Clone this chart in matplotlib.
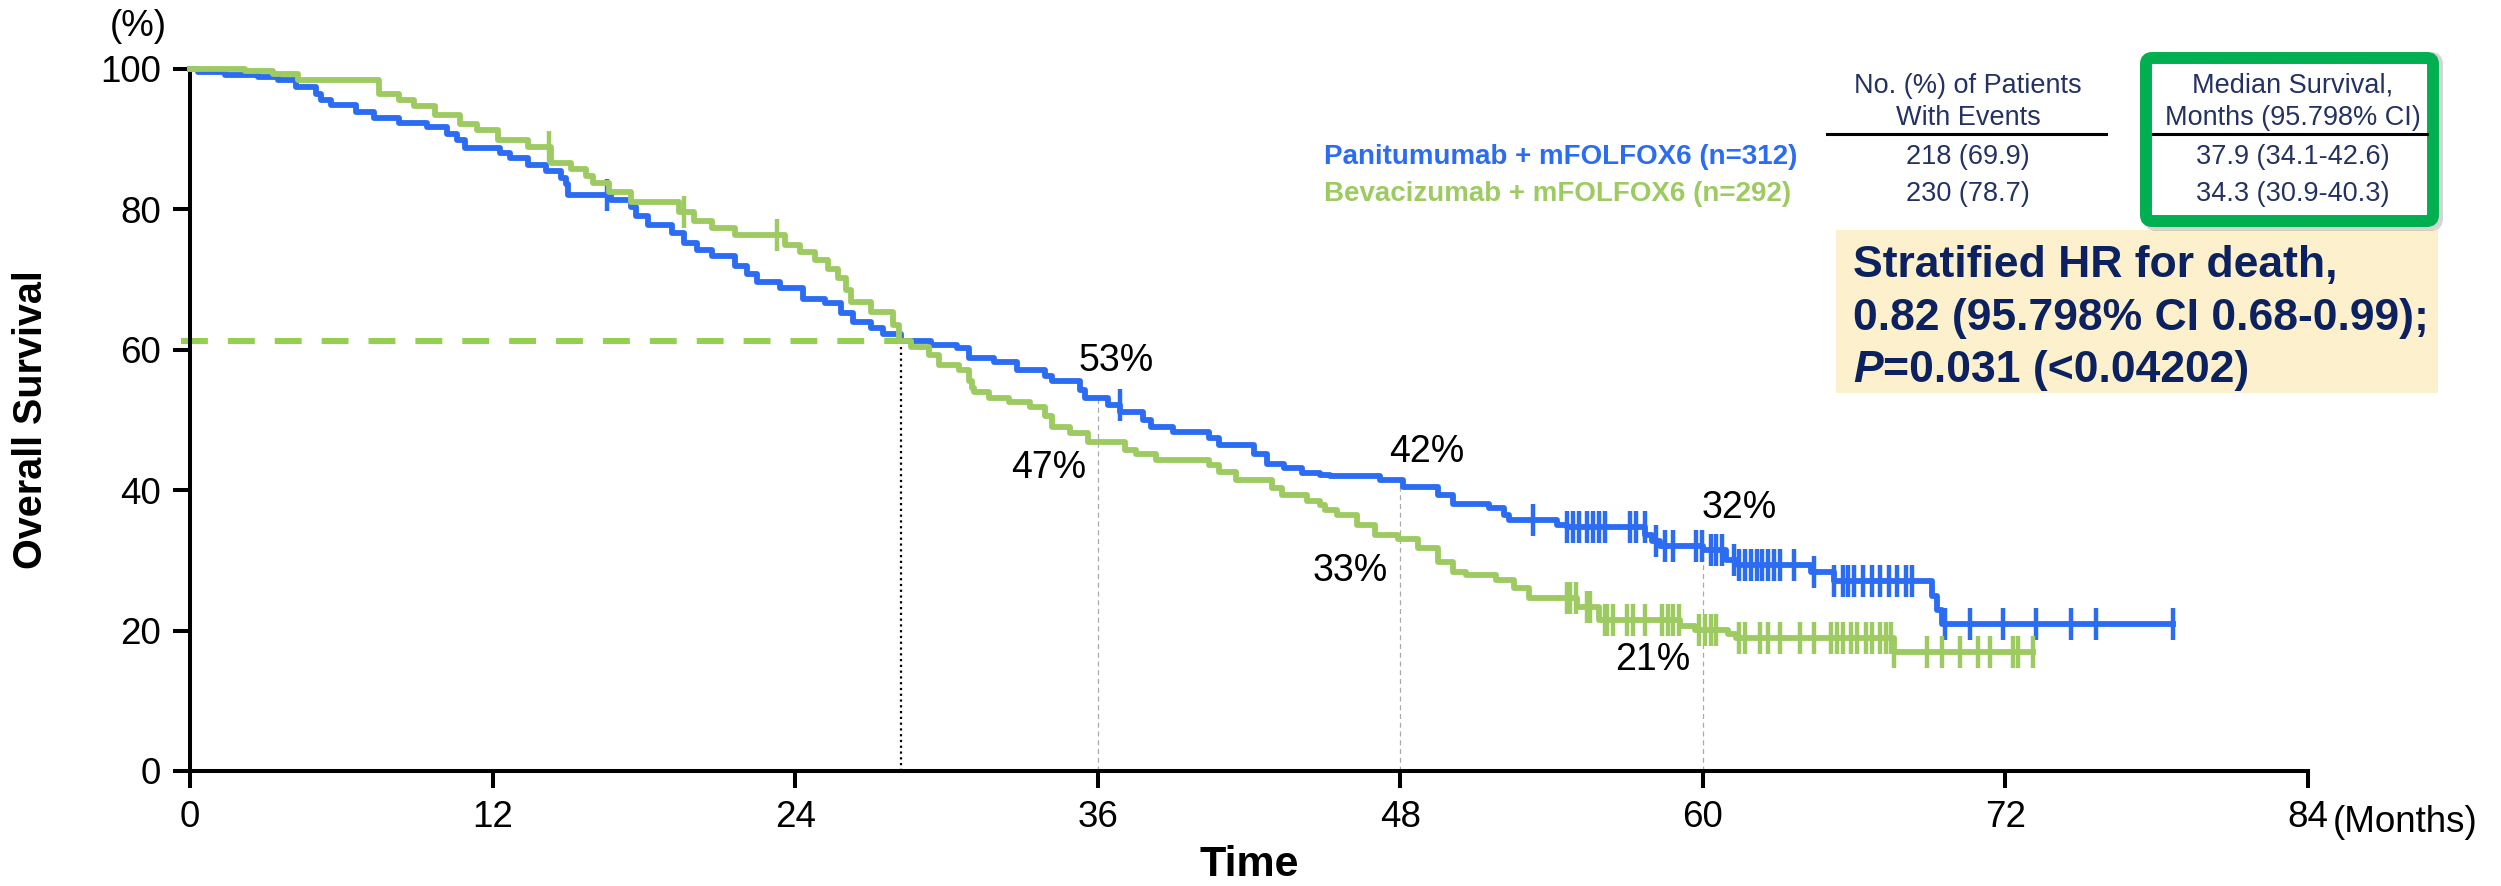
import numpy as np
import matplotlib
matplotlib.use("Agg")
import matplotlib.pyplot as plt
from matplotlib.patches import FancyBboxPatch, Rectangle
from matplotlib.transforms import IdentityTransform

plt.rcParams['font.family'] = ['Liberation Sans', 'DejaVu Sans']

# ========== data ==========
# Panitumumab + mFOLFOX6 : step times (months) and survival (%) after each step
pani_t = [0, 0.3, 1.4, 2.7, 3.5, 4.2, 5.0, 5.2, 5.6, 6.6, 7.3, 8.3, 9.4, 10.2, 10.6,
          10.9, 12.3, 12.7, 13.4, 14.1, 14.7, 14.9, 15.0, 16.7, 17.5, 17.7, 18.15,
          19.1, 19.6, 20.1, 20.7, 21.6, 22.1, 22.5, 23.4, 24.3, 25.2, 25.8, 26.3,
          27.0, 27.5, 28.2, 29.4, 30.4, 30.9, 31.9, 32.8, 33.9, 34.2, 35.3, 35.5,
          36.4, 36.9, 37.8, 38.1, 39.0, 40.4, 40.8, 42.2, 42.7, 43.4, 44.1, 44.8,
          45.2, 47.2, 48.1, 49.5, 50.1, 51.5, 52.1, 52.3, 54.2, 54.6, 57.7, 58.0,
          58.3, 60.0, 60.9, 61.4, 64.3, 65.2, 69.1, 69.3, 69.5, 78.65]
pani_s = [100, 99.6, 99.2, 98.9, 98.4, 97.5, 96.5, 95.6, 94.9, 93.9, 93.0, 92.3, 91.7,
          90.8, 89.9, 88.7, 88.0, 87.3, 86.3, 85.4, 84.5, 83.6, 82.0, 81.3, 80.4,
          79.0, 77.8, 76.6, 75.2, 74.2, 73.3, 72.0, 70.8, 69.7, 68.8, 67.3, 66.6,
          65.2, 64.0, 63.1, 62.3, 61.3, 60.7, 60.2, 58.8, 58.2, 57.1, 56.2, 55.5,
          54.3, 53.2, 52.1, 51.2, 50.0, 49.0, 48.3, 47.4, 46.4, 45.2, 43.8, 43.1,
          42.4, 42.2, 42.0, 41.5, 40.5, 39.3, 38.1, 37.5, 36.5, 35.8, 35.0, 34.8,
          33.6, 32.8, 32.0, 31.5, 30.1, 29.3, 28.4, 27.1, 25.0, 23.0, 21.0, 21.0]
pani_cens = [16.55, 36.87, 53.25, 54.62, 54.85, 55.07, 55.42, 55.64, 55.87, 56.1,
             57.12, 57.35, 57.69, 58.15, 58.49, 58.83, 59.74, 59.97, 60.31, 60.54,
             60.77, 61.22, 61.45, 61.68, 61.9, 62.13, 62.36, 62.59, 62.81, 63.04,
             63.61, 64.41, 65.21, 65.55, 65.77, 66.0, 66.34, 66.69, 67.03, 67.37,
             67.71, 68.05, 68.28, 69.6, 70.6, 71.9, 73.2, 74.6, 75.6, 78.65]

# Bevacizumab + mFOLFOX6
beva_t = [0, 2.2, 3.3, 4.3, 7.5, 8.3, 8.9, 9.7, 10.7, 11.4, 12.2, 13.4, 14.3, 15.1,
          15.7, 16.0, 16.6, 17.5, 19.4, 20.0, 20.7, 21.6, 23.6, 24.2, 24.8, 25.3,
          25.7, 26.0, 26.2, 27.0, 27.9, 28.1, 28.6, 29.3, 29.7, 30.5, 30.9, 31.0,
          31.1, 31.7, 32.5, 33.3, 33.9, 34.2, 34.9, 35.6, 37.1, 37.5, 38.3, 40.4,
          40.8, 41.5, 42.9, 43.3, 44.3, 44.8, 45.0, 45.5, 46.3, 47.0, 47.9, 48.7,
          49.5, 50.1, 50.6, 51.8, 52.5, 53.1, 55.0, 55.9, 59.1, 59.7, 61.0, 61.3,
          67.6, 73.1]
beva_s = [100, 99.7, 99.3, 98.4, 96.5, 95.6, 94.8, 93.4, 92.2, 91.3, 89.9, 88.9, 86.6,
          85.8, 84.7, 83.7, 82.5, 81.0, 79.7, 78.3, 77.3, 76.4, 75.0, 74.0, 72.8,
          71.5, 70.2, 68.5, 66.8, 65.4, 63.5, 61.3, 60.4, 59.3, 57.8, 57.1, 55.5,
          54.5, 54.0, 53.1, 52.5, 51.9, 50.5, 49.0, 48.1, 46.9, 45.7, 45.2, 44.3,
          43.6, 42.6, 41.5, 40.3, 39.3, 38.4, 37.9, 37.2, 36.5, 35.0, 33.6, 33.1,
          31.7, 29.8, 28.4, 27.9, 27.2, 26.0, 24.6, 23.4, 21.5, 20.6, 20.1, 19.5,
          18.9, 17.0, 17.0]
beva_cens = [14.25, 19.6, 23.3, 54.62, 54.73, 54.96, 55.42, 55.53, 56.1, 56.21, 56.44,
             57.0, 57.24, 57.69, 58.37, 58.6, 58.83, 59.06, 59.86, 60.08, 60.31,
             60.54, 61.45, 61.68, 62.25, 62.59, 63.04, 63.84, 64.41, 65.09, 65.32,
             65.55, 65.89, 66.12, 66.46, 66.69, 67.03, 67.26, 67.48, 67.6, 68.9,
             69.5, 70.2, 70.9, 71.4, 72.3, 72.5, 73.1]

# crossing point marked with the dashed / dotted guide
cross_time = 28.2
cross_surv = 61.2

landmark_months = [36, 48, 60]
pani_landmark = ['53%', '42%', '32%']
beva_landmark = ['47%', '33%', '21%']

arm_labels = ['Panitumumab + mFOLFOX6 (n=312)', 'Bevacizumab + mFOLFOX6 (n=292)']
events = ['218 (69.9)', '230 (78.7)']
medians = ['37.9 (34.1-42.6)', '34.3 (30.9-40.3)']

xticks = [0, 12, 24, 36, 48, 60, 72, 84]
yticks = [0, 20, 40, 60, 80, 100]

BLUE = '#2B6CF3'
GREEN = '#9DCB62'
NAVY = '#243262'
HR_NAVY = '#0C2260'

W, H = 2501, 886


def fx(px):
    return px / W


def fy(py):
    return 1 - py / H


def surv_at(t, s, m):
    i = np.searchsorted(t, m, side='right') - 1
    return np.asarray(s)[i]


# ========== plot ==========
fig = plt.figure(figsize=(W / 100, H / 100), dpi=100)
ax = fig.add_axes([fx(190), fy(771), 2118 / W, 702 / H])

ax.set_xlim(0, 84)
ax.set_ylim(0, 100)
ax.spines['top'].set_visible(False)
ax.spines['right'].set_visible(False)
for sp in ('left', 'bottom'):
    ax.spines[sp].set_linewidth(2.9)
ax.tick_params(direction='out', length=12, width=2.9, labelsize=26.5, pad=9)
ax.set_xticks(xticks)
ax.set_yticks(yticks)

# guides
ax.plot([-0.36, cross_time], [cross_surv, cross_surv], color='#92D050', lw=4.3,
        dashes=(4.5, 3.35), clip_on=False, zorder=2)
ax.vlines(cross_time, 0, cross_surv, colors='black', lw=1.6,
          linestyles=(0, (1, 1.6)), zorder=2)
top_vals = [max(surv_at(pani_t, pani_s, m), surv_at(beva_t, beva_s, m))
            for m in landmark_months]
ax.vlines(landmark_months, 0, top_vals, colors='#aaaaaa', lw=0.9,
          linestyles=(0, (4, 3)), zorder=1)

# curves
ax.step(pani_t, pani_s, where='post', color=BLUE, lw=4.2, clip_on=False, zorder=3)
ax.plot(pani_cens, surv_at(pani_t, pani_s, pani_cens), ls='none', marker='|',
        ms=23, mew=3.2, color=BLUE, clip_on=False, zorder=3)
ax.step(beva_t, beva_s, where='post', color=GREEN, lw=4.2, clip_on=False, zorder=4)
ax.plot(beva_cens, surv_at(beva_t, beva_s, beva_cens), ls='none', marker='|',
        ms=23, mew=3.2, color=GREEN, clip_on=False, zorder=4)

# landmark labels (offsets in points)
pani_off = [(13, 26), (19, 20), (26, 30)]
beva_off = [(-35, -19), (-36, -23), (-36, -22)]
for m, lab, off in zip(landmark_months, pani_landmark, pani_off):
    ax.annotate(lab, (m, surv_at(pani_t, pani_s, m)), xytext=off,
                textcoords='offset points', ha='center', va='center', fontsize=27)
for m, lab, off in zip(landmark_months, beva_landmark, beva_off):
    ax.annotate(lab, (m, surv_at(beva_t, beva_s, m)), xytext=off,
                textcoords='offset points', ha='center', va='center', fontsize=27)

# axis labels
ax.set_ylabel('Overall Survival', fontsize=28.5, fontweight='bold')
ax.yaxis.set_label_coords(-0.066, 0.5)
ax.set_xlabel('Time', fontsize=31, fontweight='bold')
ax.xaxis.set_label_coords(0.5, -0.105)
ax.annotate('(Months)', (84, 0), xycoords=('data', 'axes fraction'),
            xytext=(18, -43.9), textcoords='offset points', ha='left',
            va='baseline', fontsize=26.5, annotation_clip=False)
fig.text(fx(138), fy(27), '(%)', ha='center', va='center', fontsize=26.5)

# ========== table / legend ==========
pix = IdentityTransform()
fig.add_artist(Rectangle((1836, H - 393), 602, 163, transform=pix,
                         facecolor='#FDF0CC', edgecolor='none', zorder=1))
fig.add_artist(FancyBboxPatch((2150, H - 225), 287, 167, transform=pix,
                              boxstyle='round,pad=0,rounding_size=6',
                              facecolor='#888888', edgecolor='#888888', lw=8.6,
                              alpha=0.35, zorder=2))
fig.add_artist(FancyBboxPatch((2146, H - 221), 287, 163, transform=pix,
                              boxstyle='round,pad=0,rounding_size=6',
                              facecolor='white', edgecolor='#00B050', lw=8.6,
                              zorder=3))

fig.text(fx(1968), fy(93), 'No. (%) of Patients', ha='center', va='baseline',
         fontsize=19.5, color=NAVY, zorder=5)
fig.text(fx(1968), fy(125), 'With Events', ha='center', va='baseline',
         fontsize=19.5, color=NAVY, zorder=5)
fig.text(fx(2293), fy(93), 'Median Survival,', ha='center', va='baseline',
         fontsize=19.5, color=NAVY, zorder=5)
fig.text(fx(2293), fy(125), 'Months (95.798% CI)', ha='center', va='baseline',
         fontsize=19.5, color=NAVY, zorder=5)
fig.add_artist(plt.Line2D([fx(1827), fx(2106)], [fy(134), fy(134)], color='black',
                          lw=2.2, zorder=5))
fig.add_artist(plt.Line2D([fx(2153), fx(2427)], [fy(134), fy(134)], color='black',
                          lw=2.2, zorder=5))

row_y = [164, 201]
for y, lab, col, ev, med in zip(row_y, arm_labels, [BLUE, GREEN], events, medians):
    fig.text(fx(1324), fy(y), lab, ha='left', va='baseline', fontsize=20,
             fontweight='bold', color=col, zorder=5)
    fig.text(fx(1968), fy(y), ev, ha='center', va='baseline', fontsize=19.5,
             color=NAVY, zorder=5)
    fig.text(fx(2293), fy(y), med, ha='center', va='baseline', fontsize=19.5,
             color=NAVY, zorder=5)

# hazard ratio box text
fig.text(fx(1853), fy(277), 'Stratified HR for death,', ha='left', va='baseline',
         fontsize=32, fontweight='bold', color=HR_NAVY, zorder=5)
fig.text(fx(1853), fy(330), '0.82 (95.798% CI 0.68-0.99);', ha='left', va='baseline',
         fontsize=32, fontweight='bold', color=HR_NAVY, zorder=5)
p_txt = fig.text(fx(1853), fy(382), 'P', ha='left', va='baseline', fontsize=32,
                 fontweight='bold', style='italic', color=HR_NAVY, zorder=5)
renderer = fig.canvas.get_renderer()
p_right = p_txt.get_window_extent(renderer).x1
fig.text(p_right / W, fy(382), '=0.031 (<0.04202)', ha='left', va='baseline',
         fontsize=32, fontweight='bold', color=HR_NAVY, zorder=5)

fig.savefig('out.png', dpi=100)
